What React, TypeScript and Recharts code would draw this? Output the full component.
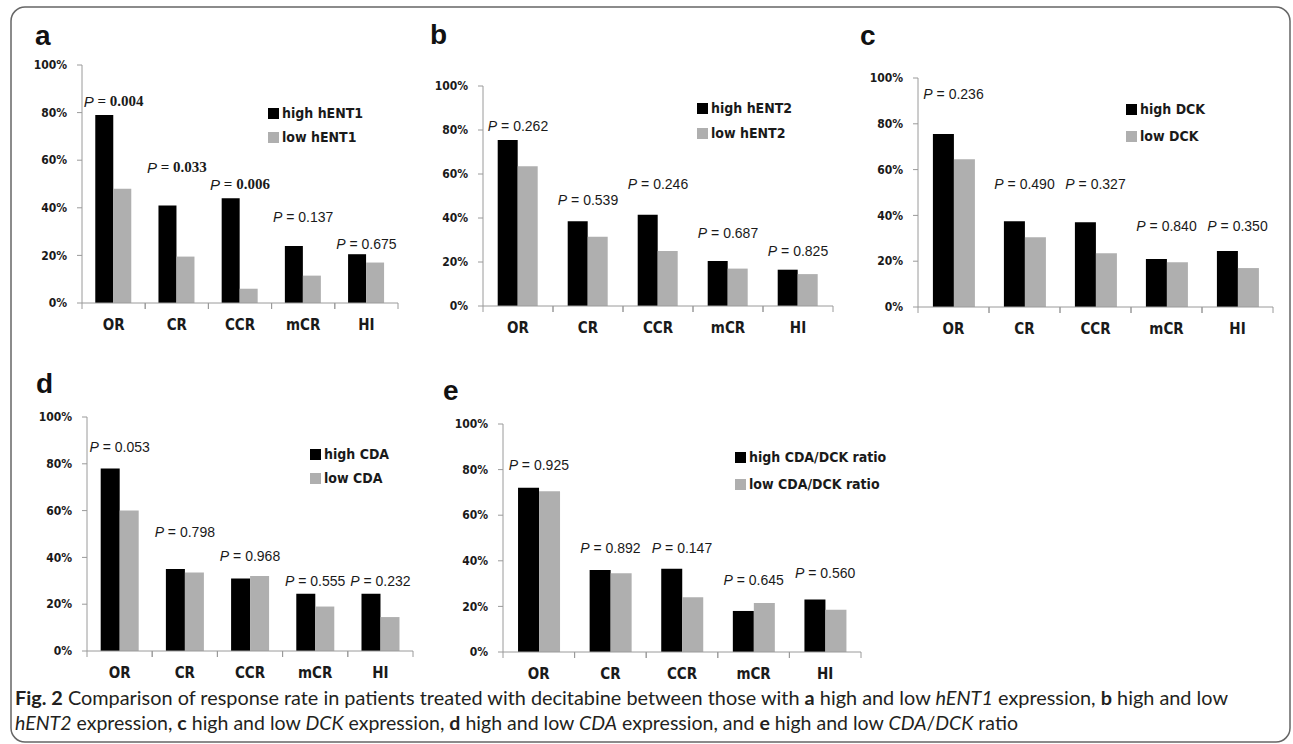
import React from 'react';
import { BarChart, Bar, XAxis, YAxis, ReferenceDot } from 'recharts';

const categories = ['OR', 'CR', 'CCR', 'mCR', 'HI'];
const yTicks = [0, 20, 40, 60, 80, 100];

// a: hENT1
const hent1High = [79, 41, 44, 24, 20.5];
const hent1Low = [48, 19.5, 6, 11.5, 17];
const hent1P = ['0.004', '0.033', '0.006', '0.137', '0.675'];
const hent1PAt = [85, 57, 50, 36, 25];
const hent1PBold = [true, true, true, false, false];

// b: hENT2
const hent2High = [75.5, 38.5, 41.5, 20.5, 16.5];
const hent2Low = [63.5, 31.5, 25, 17, 14.5];
const hent2P = ['0.262', '0.539', '0.246', '0.687', '0.825'];
const hent2PAt = [82, 48, 55.5, 33, 25];

// c: DCK
const dckHigh = [75.5, 37.5, 37, 21, 24.5];
const dckLow = [64.5, 30.5, 23.5, 19.5, 17];
const dckP = ['0.236', '0.490', '0.327', '0.840', '0.350'];
const dckPAt = [93, 53.5, 53.5, 35.5, 35.5];

// d: CDA
const cdaHigh = [78, 35, 31, 24.5, 24.5];
const cdaLow = [60, 33.5, 32, 19, 14.5];
const cdaP = ['0.053', '0.798', '0.968', '0.555', '0.232'];
const cdaPAt = [87, 51, 40.5, 30, 30];

// e: CDA/DCK ratio
const ratioHigh = [72, 36, 36.5, 18, 23];
const ratioLow = [70.5, 34.5, 24, 21.5, 18.5];
const ratioP = ['0.925', '0.892', '0.147', '0.645', '0.560'];
const ratioPAt = [82, 45.5, 45.5, 31.5, 34.5];

const HIGH_COLOR = '#000000';
const LOW_COLOR = '#afafaf';
const AXIS_COLOR = '#9a9a9a';
const COND = '"DejaVu Sans Condensed", "DejaVu Sans", sans-serif';

interface PanelProps {
  letter: string;
  letterX: number;
  letterY: number;
  x0: number;
  x1: number;
  yTop: number;
  yBot: number;
  high: number[];
  low: number[];
  pValues: string[];
  pAt: number[];
  pBold?: boolean[];
  highName: string;
  lowName: string;
  legendX: number;
  legendY: number;
  legendGap: number;
}

function CatTick(props: any) {
  const { x, y, payload, bw } = props;
  return (
    <g>
      <line x1={x - bw / 2} x2={x - bw / 2} y1={y} y2={y + 6} stroke={AXIS_COLOR} />
      <line x1={x + bw / 2} x2={x + bw / 2} y1={y} y2={y + 6} stroke={AXIS_COLOR} />
      <text
        x={x}
        y={y + 22}
        textAnchor="middle"
        dominantBaseline="central"
        fontFamily={COND}
        fontWeight="bold"
        fontSize={15}
        fill="#1a1a1a"
      >
        {payload.value}
      </text>
    </g>
  );
}

function Panel(p: PanelProps) {
  const padL = 60;
  const padR = 15;
  const padT = 20;
  const axisH = 40;
  const width = p.x1 - p.x0 + padL + padR;
  const height = p.yBot - p.yTop + padT + axisH;
  const left = p.x0 - padL;
  const top = p.yTop - padT;
  const bw = (p.x1 - p.x0) / categories.length;

  const rows = categories.map((cat, i) => ({ cat, high: p.high[i], low: p.low[i] }));

  return (
    <>
      <div style={{ position: 'absolute', left, top, width, height }}>
        <BarChart
          width={width}
          height={height}
          data={rows}
          margin={{ top: padT, right: padR, bottom: 0, left: 0 }}
          barCategoryGap="21%"
          barGap={0}
        >
          <XAxis
            dataKey="cat"
            height={axisH}
            tickSize={0}
            tickMargin={0}
            tickLine={false}
            axisLine={{ stroke: AXIS_COLOR }}
            interval={0}
            tick={<CatTick bw={bw} />}
          />
          <YAxis
            width={padL}
            domain={[0, 100]}
            ticks={yTicks}
            interval={0}
            tickFormatter={(v) => `${v}%`}
            tickSize={5}
            tickMargin={10}
            axisLine={{ stroke: AXIS_COLOR }}
            tickLine={{ stroke: AXIS_COLOR }}
            tick={{ fontSize: 12, fontWeight: 'bold', fill: '#1a1a1a', fontFamily: COND }}
          />
          <Bar dataKey="high" name={p.highName} fill={HIGH_COLOR} isAnimationActive={false} />
          <Bar dataKey="low" name={p.lowName} fill={LOW_COLOR} isAnimationActive={false} />
          {categories.map((cat, i) => {
            const bold = p.pBold ? p.pBold[i] : false;
            return (
              <ReferenceDot
                key={cat}
                x={cat}
                y={p.pAt[i]}
                r={0}
                ifOverflow="visible"
                shape={(s: any) => (
                  <text
                    x={s.cx}
                    y={s.cy}
                    textAnchor="middle"
                    dominantBaseline="central"
                    fontFamily={bold ? 'Liberation Serif' : 'Liberation Sans'}
                    fontWeight={bold ? 'bold' : 'normal'}
                    fontSize={bold ? 15 : 14}
                    fill="#1a1a1a"
                  >
                    <tspan fontStyle="italic" fontFamily="Liberation Sans" fontWeight="normal">P</tspan>
                    {` = ${p.pValues[i]}`}
                  </text>
                )}
              />
            );
          })}
        </BarChart>
      </div>
      <div
        style={{
          position: 'absolute',
          left: p.legendX,
          top: p.legendY - 9,
          fontFamily: COND,
          fontWeight: 'bold',
          fontSize: 14,
          color: '#1a1a1a',
          lineHeight: '18px',
        }}
      >
        {[
          { name: p.highName, color: HIGH_COLOR },
          { name: p.lowName, color: LOW_COLOR },
        ].map((item, i) => (
          <div
            key={item.name}
            style={{ display: 'flex', alignItems: 'center', marginTop: i === 0 ? 0 : p.legendGap - 18, whiteSpace: 'nowrap' }}
          >
            <span style={{ width: 11, height: 11, background: item.color, marginRight: 3, display: 'inline-block' }} />
            {item.name}
          </div>
        ))}
      </div>
      <div
        style={{
          position: 'absolute',
          left: p.letterX,
          top: p.letterY - 27,
          fontFamily: 'Liberation Sans',
          fontWeight: 'bold',
          fontSize: 28,
          lineHeight: '32px',
          color: '#111',
        }}
      >
        {p.letter}
      </div>
    </>
  );
}

export default function App() {
  return (
    <div style={{ position: 'absolute', left: 0, top: 0, width: 1293, height: 744, background: '#fff', overflow: 'hidden' }}>
      <svg width={1293} height={744} style={{ position: 'absolute', left: 0, top: 0 }}>
        <rect x={11} y={7} width={1279} height={735} rx={14} fill="none" stroke="#666" strokeWidth={1.5} />
        <text x={15} y={705} fontFamily="Lato" fontSize={19} fill="#231f20" textLength={1213} lengthAdjust="spacingAndGlyphs">
          <tspan fontWeight="bold">Fig. 2</tspan>
          {'  Comparison of response rate in patients treated with decitabine between those with '}
          <tspan fontWeight="bold">a</tspan>
          {' high and low '}
          <tspan fontStyle="italic">hENT1</tspan>
          {' expression, '}
          <tspan fontWeight="bold">b</tspan>
          {' high and low'}
        </text>
        <text x={15} y={730} fontFamily="Lato" fontSize={19} fill="#231f20" textLength={1003} lengthAdjust="spacingAndGlyphs">
          <tspan fontStyle="italic">hENT2</tspan>
          {' expression, '}
          <tspan fontWeight="bold">c</tspan>
          {' high and low '}
          <tspan fontStyle="italic">DCK</tspan>
          {' expression, '}
          <tspan fontWeight="bold">d</tspan>
          {' high and low '}
          <tspan fontStyle="italic">CDA</tspan>
          {' expression, and '}
          <tspan fontWeight="bold">e</tspan>
          {' high and low '}
          <tspan fontStyle="italic">CDA</tspan>
          {'/'}
          <tspan fontStyle="italic">DCK</tspan>
          {' ratio'}
        </text>
      </svg>

      <Panel letter="a" letterX={35} letterY={47} x0={82} x1={398} yTop={65} yBot={303}
        high={hent1High} low={hent1Low} pValues={hent1P} pAt={hent1PAt} pBold={hent1PBold}
        highName="high hENT1" lowName="low hENT1" legendX={268} legendY={113} legendGap={24} />
      <Panel letter="b" letterX={430} letterY={46} x0={483} x1={833} yTop={86} yBot={306}
        high={hent2High} low={hent2Low} pValues={hent2P} pAt={hent2PAt}
        highName="high hENT2" lowName="low hENT2" legendX={697} legendY={108} legendGap={25} />
      <Panel letter="c" letterX={860} letterY={47} x0={918} x1={1273} yTop={78} yBot={307}
        high={dckHigh} low={dckLow} pValues={dckP} pAt={dckPAt}
        highName="high DCK" lowName="low DCK" legendX={1126} legendY={109} legendGap={27} />
      <Panel letter="d" letterX={36} letterY={395} x0={87} x1={413} yTop={417} yBot={651}
        high={cdaHigh} low={cdaLow} pValues={cdaP} pAt={cdaPAt}
        highName="high CDA" lowName="low CDA" legendX={310} legendY={454} legendGap={24} />
      <Panel letter="e" letterX={443} letterY={402} x0={503} x1={861} yTop={424} yBot={652}
        high={ratioHigh} low={ratioLow} pValues={ratioP} pAt={ratioPAt}
        highName="high CDA/DCK ratio" lowName="low CDA/DCK ratio" legendX={735} legendY={457} legendGap={27} />
    </div>
  );
}
